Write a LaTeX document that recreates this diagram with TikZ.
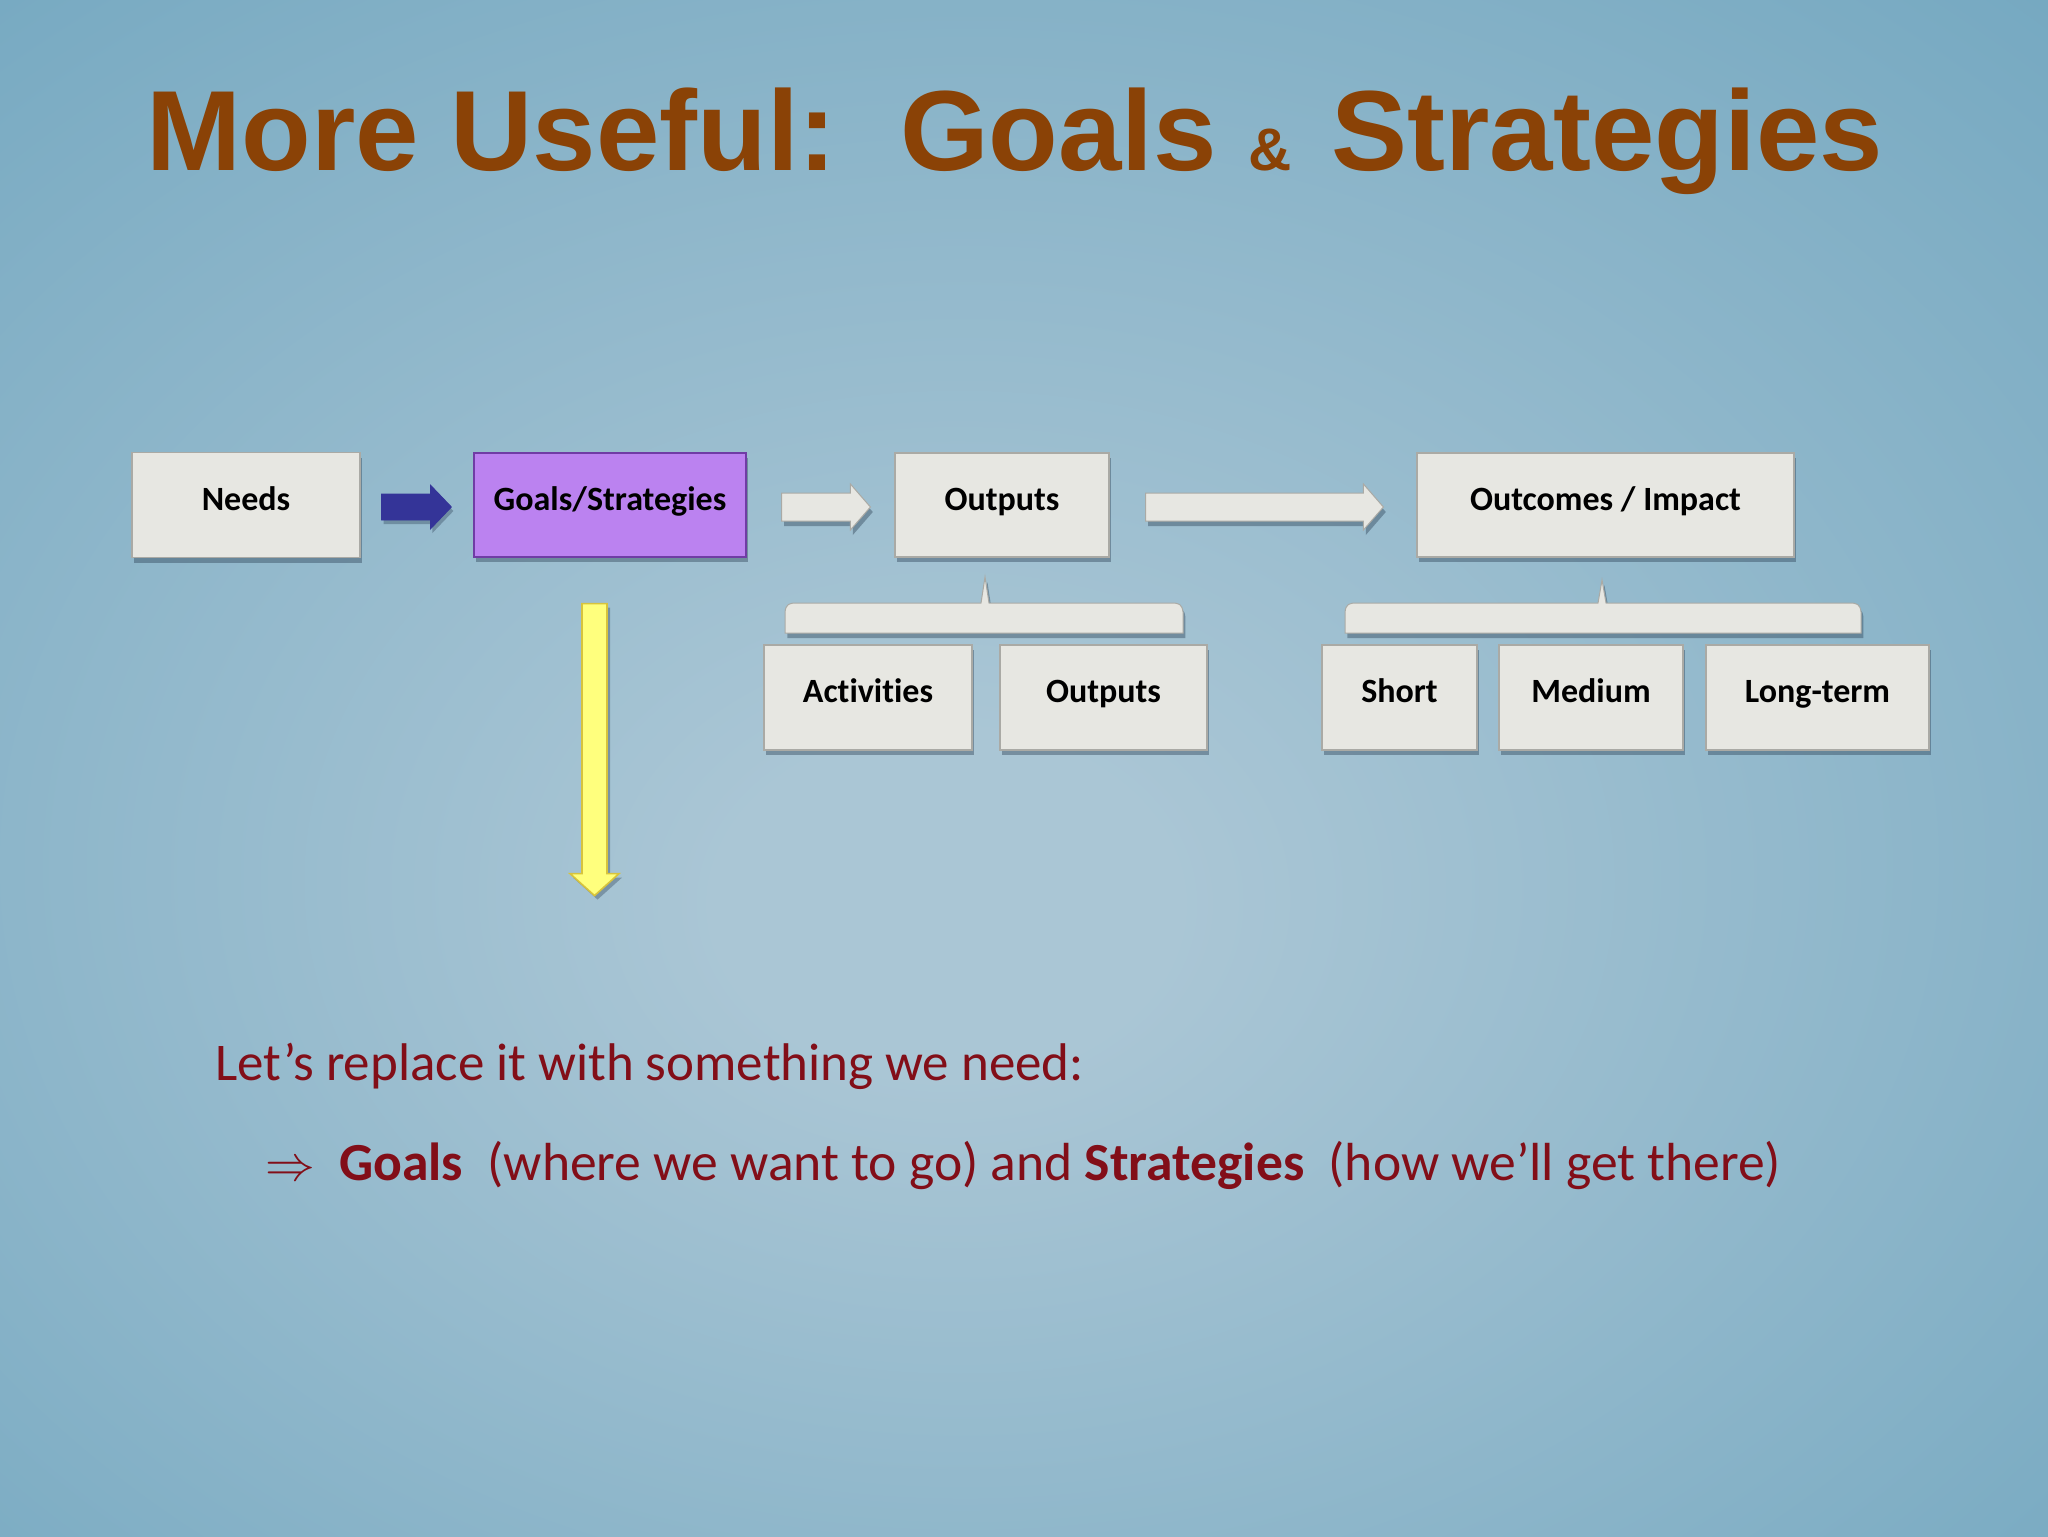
\documentclass[tikz,border=0pt]{standalone}
\usepackage{fontspec}
\setmainfont{Carlito}[Ligatures=NoCommon]
\newfontfamily\titlefont{Liberation Sans}
\usetikzlibrary{calc,shadows}
\definecolor{bgin}{RGB}{170,198,213}
\definecolor{bgmid}{RGB}{102,160,187}
\definecolor{bgout}{RGB}{80,145,175}
\definecolor{boxfill}{RGB}{231,231,226}
\definecolor{boxedge}{RGB}{170,170,165}
\definecolor{purplefill}{RGB}{187,130,240}
\definecolor{purpleedge}{RGB}{112,60,165}
\definecolor{bluearr}{RGB}{52,52,152}
\definecolor{yellowfill}{RGB}{255,255,125}
\definecolor{yellowedge}{RGB}{215,195,60}
\definecolor{titlebrown}{RGB}{138,66,6}
\definecolor{textred}{RGB}{130,14,24}
\definecolor{shadowcol}{RGB}{40,60,80}
\pgfdeclareradialshading{bgshade}{\pgfpoint{-1.5bp}{-3.5bp}}{color(0bp)=(bgin); color(4bp)=(bgin); color(34bp)=(bgmid); color(48bp)=(bgout)}
\newcommand\harrow[6]{\filldraw[#1] ($#2+(0,-#4)$) -- ($#3+(-#6,-#4)$) -- ($#3+(-#6,-#5)$) -- #3 -- ($#3+(-#6,#5)$) -- ($#3+(-#6,#4)$) -- ($#2+(0,#4)$) -- cycle;}
\newcommand\varrow[6]{\filldraw[#1] ($#2+(-#4,0)$) -- ($#3+(-#4,-#6)$) -- ($#3+(-#5,-#6)$) -- #3 -- ($#3+(#5,-#6)$) -- ($#3+(#4,-#6)$) -- ($#2+(#4,0)$) -- cycle;}
\newcommand\bracketbar[4]{\filldraw[barstyle] (#1,633) -- (#1,612) .. controls (#1+1,604) and (#1+4,603) .. (#1+12,603) -- (#3-4,603) -- (#3,#4) -- (#3+4,603) -- (#2-12,603) .. controls (#2-4,603) and (#2-1,604) .. (#2,612) -- (#2,633) -- cycle;}
\begin{document}
\begin{tikzpicture}[x=0.5pt,y=-0.5pt,
  shadowed/.style={drop shadow={shadow xshift=1.2pt, shadow yshift=-2.5pt, opacity=0.4, fill=shadowcol}},
  sz/.style 2 args={minimum width=#1*0.5pt, minimum height=#2*0.5pt},
  box/.style={draw=boxedge, line width=0.6pt, fill=boxfill, inner sep=0pt, text height=10pt, text depth=5pt, font=\fontsize{17}{20}\selectfont\bfseries, shadowed},
  purplebox/.style={draw=purpleedge, fill=purplefill},
  bluestyle/.style={fill=bluearr, draw=bluearr, line width=0.4pt, drop shadow={shadow xshift=1pt, shadow yshift=-2pt, opacity=0.35, fill=shadowcol}},
  whitestyle/.style={fill=boxfill, draw=boxedge, line width=0.5pt, shadowed},
  yellowstyle/.style={fill=yellowfill, draw=yellowedge, line width=0.8pt, drop shadow={shadow xshift=1.5pt, shadow yshift=-2pt, opacity=0.35, fill=shadowcol}},
  barstyle/.style={fill=boxfill, draw=boxedge, line width=0.5pt, shadowed},
  bodytext/.style={anchor=base west, text=textred, font=\fontsize{26.5}{30}\selectfont, inner sep=0pt}]
\begin{scope}
\clip (0,0) rectangle (2048,1536);
\shade[shading=bgshade] (-400,-300) rectangle (2448,1836);
\end{scope}
\useasboundingbox (0,0) rectangle (2048,1536);

\node[anchor=base west, inner sep=0pt, text=titlebrown, font=\titlefont\bfseries\fontsize{57}{60}\selectfont] (title) at (146,170) {More Useful:\ \ Goals {\fontsize{30}{30}\selectfont\&}\hspace{4pt} Strategies};

\node[box, sz={228}{105}] (needs) at (246,505) {Needs};
\node[box, purplebox, sz={272}{104}] (goals) at (610,505) {Goals/Strategies};
\node[box, sz={214}{104}] (outputs) at (1002,505) {Outputs};
\node[box, sz={377}{104}] (outcomes) at (1605.5,505) {Outcomes / Impact};

\node[box, sz={208}{105}] (activities) at (868,697.5) {Activities};
\node[box, sz={207}{105}] (outputs2) at (1103.5,697.5) {Outputs};
\node[box, sz={155}{105}] (short) at (1399.5,697.5) {Short};
\node[box, sz={184}{105}] (medium) at (1591,697.5) {Medium};
\node[box, sz={223}{105}] (longterm) at (1817.5,697.5) {Long-term};

\coordinate (a1s) at ($(needs.east)+(21,2)$);
\coordinate (a1e) at ($(goals.west)+(-22,2)$);
\coordinate (a2s) at ($(goals.east)+(35,2)$);
\coordinate (a2e) at ($(outputs.west)+(-24,2)$);
\coordinate (a3s) at ($(outputs.east)+(36,2)$);
\coordinate (a3e) at ($(outcomes.west)+(-33,2)$);
\coordinate (ys) at ($(goals.south)+(-15.5,46)$);
\coordinate (ye) at ($(goals.south)+(-15.5,338)$);

\harrow{bluestyle}{(a1s)}{(a1e)}{13}{22}{21}
\harrow{whitestyle}{(a2s)}{(a2e)}{14}{23}{20}
\harrow{whitestyle}{(a3s)}{(a3e)}{14}{23}{20}
\varrow{yellowstyle}{(ys)}{(ye)}{12.5}{24.5}{22}

\bracketbar{785}{1183}{985}{577}
\bracketbar{1345}{1861}{1602}{580}

\node[bodytext] (line1) at (215,1080) {Let’s replace it with something we need:};
\node[bodytext, font=\fontsize{26.8}{30}\selectfont] (line2) at (265,1180) {$\Rightarrow$\hspace{0.45em}\textbf{Goals}\ \ (where we want to go) and \textbf{Strategies}\ \ (how we’ll get there)};
\end{tikzpicture}
\end{document}
